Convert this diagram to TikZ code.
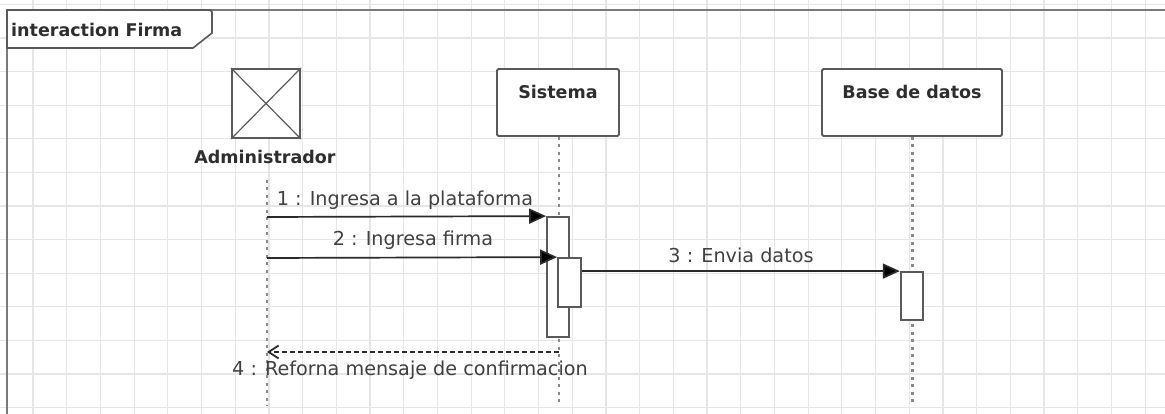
\documentclass[tikz,border=0pt]{standalone}
\usepackage{fontspec}
\setmainfont{DejaVu Sans}
\usetikzlibrary{arrows.meta}
\definecolor{gridc}{HTML}{E6E6E6}
\definecolor{framec}{HTML}{7A7A7A}
\definecolor{boxc}{HTML}{5A5A5A}
\definecolor{linec}{HTML}{2A2A2A}
\definecolor{lifec}{HTML}{8A8A8A}
\definecolor{txtc}{HTML}{2E2E2E}
\definecolor{msgtxt}{HTML}{404040}
\tikzset{
  lbox/.style={draw=boxc, line width=1.8pt, fill=white, rounded corners=1.5pt, inner sep=0pt},
  actbox/.style={draw=boxc, line width=1.8pt, fill=white, inner sep=0pt},
  namelbl/.style={text=txtc, font=\bfseries\fontsize{17.5}{20}\selectfont, inner sep=0pt},
  msglbl/.style={text=msgtxt, font=\fontsize{19.2}{21}\selectfont, inner sep=0pt},
  life/.style={draw=lifec, line width=2.6pt, dash pattern=on 3pt off 4.5pt},
  msg/.style={draw=linec, line width=1.7pt, -{Triangle[length=17pt,width=15pt,fill=black]}},
  ret/.style={draw=linec, line width=1.3pt, dash pattern=on 5pt off 3pt, -{Straight Barb[length=10pt,width=13pt,line width=1.8pt]}}
}
\begin{document}
\begin{tikzpicture}[x=1pt,y=-1pt]
\useasboundingbox (0,0) rectangle (1165,414);
\fill[white] (0,0) rectangle (1165,414);
% grid
\foreach \i in {1,...,34} \draw[gridc, line width=1.2pt] ({33.7*\i-0.7},0) -- ({33.7*\i-0.7},414);
\foreach \j in {0,...,12} \draw[gridc, line width=1.2pt] (0,{4.4+33.6*\j}) -- (1165,{4.4+33.6*\j});
% frame
\draw[framec, line width=2.2pt] (7,414) -- (7,10) -- (1165,10);
\draw[boxc, line width=1.6pt, fill=white] (7,10) -- (210,10) -- (212,12) -- (212,33) -- (193,48) -- (7,48) -- cycle;
\node[anchor=west, text=txtc, font=\bfseries\fontsize{17.5}{19}\selectfont, inner sep=0pt] (tab) at (11,30) {interaction Firma};
% lifeline heads
\node[lbox, rounded corners=0pt, minimum width=68pt, minimum height=69pt] (adm) at (266,103.5) {};
\draw[boxc, line width=1.2pt] (adm.north west) -- (adm.south east) (adm.north east) -- (adm.south west);
\node[namelbl] (admt) at (265,157) {Administrador};
\node[lbox, minimum width=122pt, minimum height=67pt] (sis) at (558,102.5) {};
\node[namelbl] (sist) at (558,92) {Sistema};
\node[lbox, minimum width=180pt, minimum height=67pt] (bd) at (912,102.5) {};
\node[namelbl] (bdt) at (912,92) {Base de datos};
% lifelines
\coordinate (admtop) at (267,180);
\coordinate (admend) at (267,406);
\coordinate (sisend) at (559,406);
\coordinate (bdend) at (912.5,406);
\draw[life] (admtop) -- (admend);
\draw[life] (sis.south -| sisend) -- (sisend);
\draw[life] (bd.south -| bdend) -- (bdend);
% activations
\node[actbox, minimum width=22pt, minimum height=120pt] (act1) at (558,277) {};
\node[actbox, minimum width=23pt, minimum height=49pt] (act2) at (569.5,282.5) {};
\node[actbox, minimum width=22.6pt, minimum height=47.6pt] (act3) at (912,295.8) {};
% messages
\coordinate (a1) at (267,217);
\coordinate (a2) at (267,258);
\draw[msg] (a1) -- (act1.north west);
\node[msglbl] (l1) at (405,200) {1 : Ingresa a la plataforma};
\draw[msg] (a2) -- (act2.north west);
\node[msglbl] (l2) at (413,240) {2 : Ingresa firma};
\draw[msg] (act2.east |- act3.north) -- (act3.north west);
\node[msglbl] (l3) at (741,255) {3 : Envia datos};
\coordinate (r4) at (559,352);
\draw[ret] (r4) -- (r4 -| admtop);
\node[msglbl] (l4) at (410,370) {4 : Reforna mensaje de confirmacion};
\end{tikzpicture}
\end{document}
